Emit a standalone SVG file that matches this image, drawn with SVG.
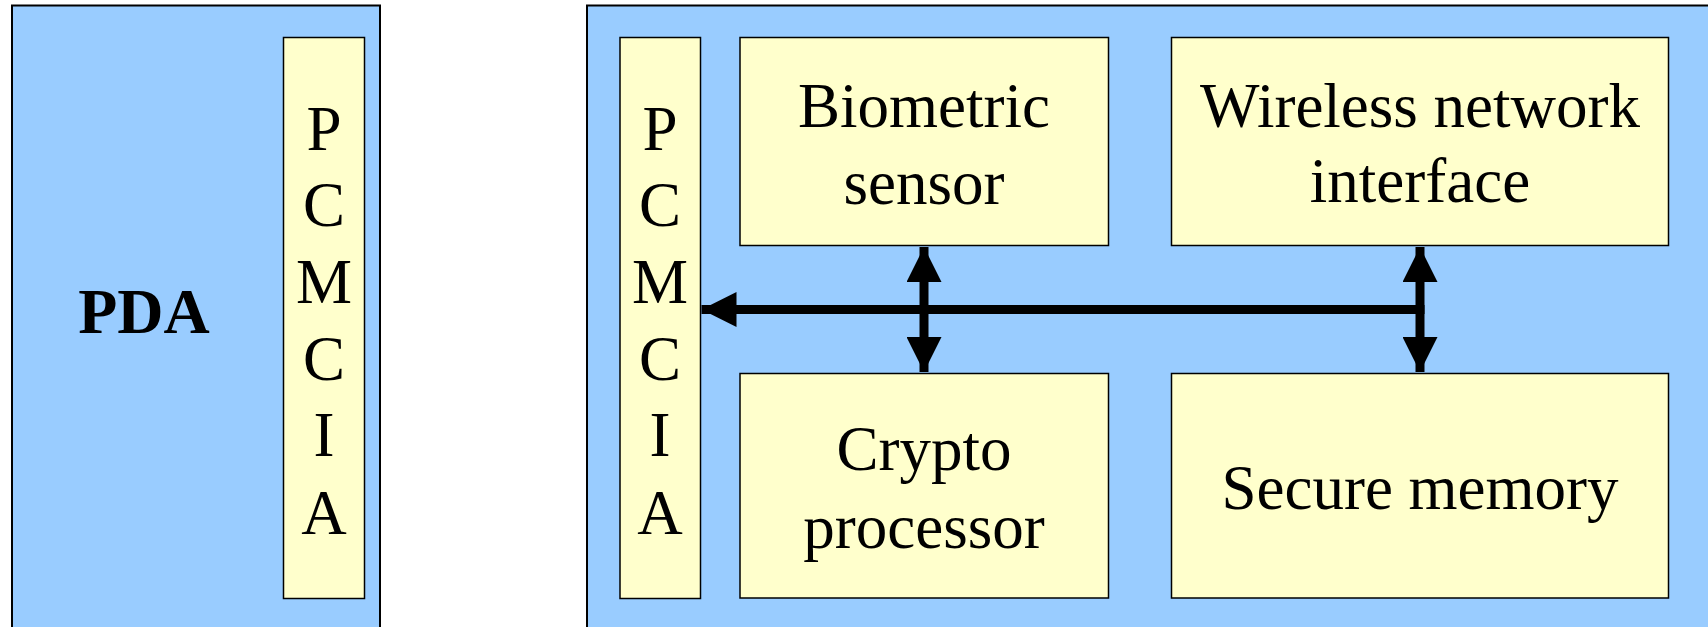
<svg xmlns="http://www.w3.org/2000/svg" width="1708" height="627" viewBox="0 0 1708 627">
<style>
.outer{fill:#99CCFF;stroke:#000;stroke-width:2}
.box{fill:#FFFFCC;stroke:#000;stroke-width:1.5}
.t{font-family:"Liberation Serif","Times New Roman",serif;font-size:63px;fill:#000;text-anchor:middle}
.b{font-weight:bold;font-size:64px}
.bus{stroke:#000;stroke-width:9;fill:none}
</style>
<defs>
<marker id="ah" viewBox="0 0 35 35" refX="35" refY="17.5" markerWidth="35" markerHeight="35" markerUnits="userSpaceOnUse" orient="auto-start-reverse">
<path d="M0,0 L35,17.5 L0,35 Z" fill="#000"/>
</marker>
</defs>
<g id="pda">
<rect class="outer" x="12" y="5.5" width="368" height="640"/>
<text class="t b" x="144" y="333">PDA</text>
</g>
<g id="pcmcia-pda">
<rect class="box" x="283.5" y="37.5" width="81" height="561"/>
<text class="t" x="324" y="150">P</text>
<text class="t" x="324" y="226">C</text>
<text class="t" x="324" y="303">M</text>
<text class="t" x="324" y="380">C</text>
<text class="t" x="324" y="456">I</text>
<text class="t" x="324" y="534">A</text>
</g>
<g id="card">
<rect class="outer" x="587" y="5.5" width="1140" height="640"/>
</g>
<g id="pcmcia-card">
<rect class="box" x="620" y="37.5" width="80.5" height="561"/>
<text class="t" x="660" y="150">P</text>
<text class="t" x="660" y="226">C</text>
<text class="t" x="660" y="303">M</text>
<text class="t" x="660" y="380">C</text>
<text class="t" x="660" y="456">I</text>
<text class="t" x="660" y="534">A</text>
</g>
<g id="biometric">
<rect class="box" x="740" y="37.5" width="368.5" height="208"/>
<text class="t" x="924" y="127">Biometric</text>
<text class="t" x="924" y="204">sensor</text>
</g>
<g id="crypto">
<rect class="box" x="740" y="373.5" width="368.5" height="224.5"/>
<text class="t" x="924" y="470">Crypto</text>
<text class="t" x="924" y="548">processor</text>
</g>
<g id="wireless">
<rect class="box" x="1171.5" y="37.5" width="497" height="208"/>
<text class="t" x="1420" y="127">Wireless network</text>
<text class="t" x="1420" y="202">interface</text>
</g>
<g id="memory">
<rect class="box" x="1171.5" y="373.5" width="497" height="224.5"/>
<text class="t" x="1420" y="509">Secure memory</text>
</g>
<g id="connectors">
<line class="bus" x1="1424.5" y1="309.5" x2="701.5" y2="309.5" marker-end="url(#ah)"/>
<line class="bus" x1="924" y1="309.5" x2="924" y2="247" marker-end="url(#ah)"/>
<line class="bus" x1="924" y1="309.5" x2="924" y2="372" marker-end="url(#ah)"/>
<line class="bus" x1="1420" y1="305" x2="1420" y2="247" marker-end="url(#ah)"/>
<line class="bus" x1="1420" y1="305" x2="1420" y2="372" marker-end="url(#ah)"/>
</g>
</svg>
